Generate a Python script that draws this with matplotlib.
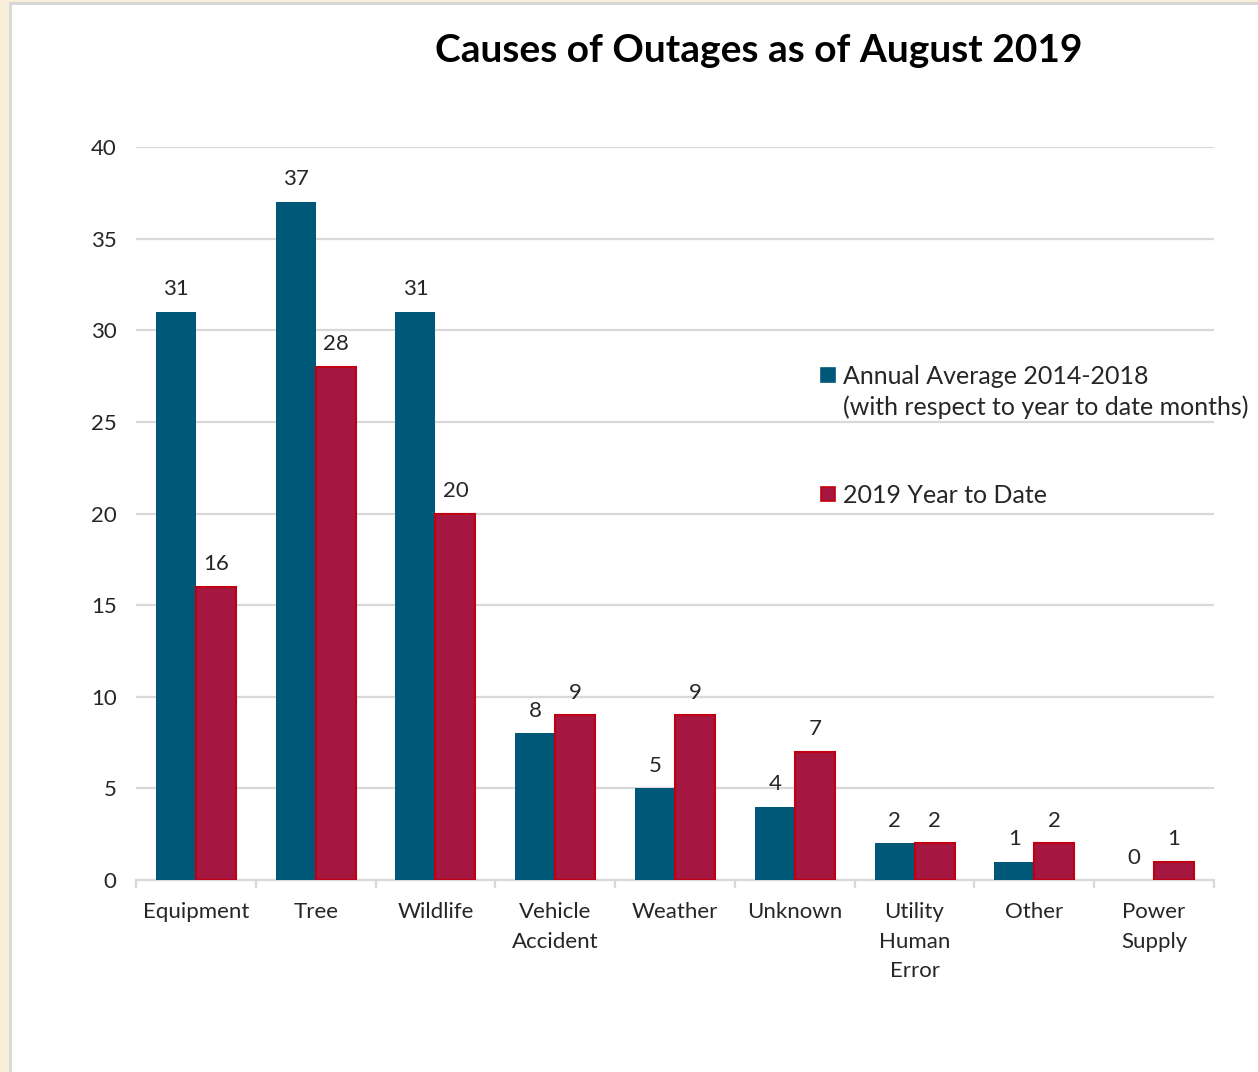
import matplotlib
matplotlib.use("Agg")
import matplotlib.pyplot as plt
from matplotlib.patches import Rectangle
import numpy as np

categories = ["Equipment", "Tree", "Wildlife", "Vehicle\nAccident", "Weather",
              "Unknown", "Utility\nHuman\nError", "Other", "Power\nSupply"]
avg_2014_2018 = [31, 37, 31, 8, 5, 4, 2, 1, 0]
ytd_2019 = [16, 28, 20, 9, 9, 7, 2, 2, 1]
series_labels = ["Annual Average 2014-2018\n(with respect to year to date months)",
                 "2019 Year to Date"]
title = "Causes of Outages as of August 2019"
yticks = [0, 5, 10, 15, 20, 25, 30, 35, 40]

BLUE = "#005878"
RED = "#A51641"
RED_EDGE = "#C00010"
GRID = "#D9D9D9"
TXT = "#262626"

plt.rcParams['font.family'] = ['Lato', 'DejaVu Sans']

W, H = 1258, 1072
fig = plt.figure(figsize=(W / 100, H / 100), dpi=100)
fig.patch.set_facecolor("#F8EFD8")
fig.patches.append(Rectangle((10 / W, -0.01), 1, 1 - 3 / H + 0.01, transform=fig.transFigure,
                             facecolor="white", edgecolor="#D6D6D6", linewidth=2, zorder=-10))

ax = fig.add_axes([136 / W, 1 - 880 / H, (1214 - 136) / W, (880 - 147) / H])
ax.set_facecolor("none")

x = np.arange(len(categories))
bw = 0.334
b1 = ax.bar(x - bw / 2, avg_2014_2018, bw, color=BLUE, zorder=3, label=series_labels[0])
b2 = ax.bar(x + bw / 2, ytd_2019, bw, color=RED, edgecolor=RED_EDGE, linewidth=1.5,
            zorder=3, label=series_labels[1])
ax.bar_label(b1, padding=9, fontsize=16, color=TXT)
ax.bar_label(b2, padding=9, fontsize=16, color=TXT)

ax.set_xlim(-0.5, len(categories) - 0.5)
ax.set_ylim(0, 40)
ax.set_yticks(yticks)
ax.set_yticklabels([str(v) for v in yticks], fontsize=16, color=TXT)
ax.yaxis.grid(True, color=GRID, linewidth=1.6, zorder=0)
ax.set_axisbelow(True)
ax.tick_params(axis='y', length=0, pad=14)

ax.set_xticks(x)
ax.set_xticklabels(categories, fontsize=16, color=TXT, linespacing=1.58)
ax.tick_params(axis='x', length=0, pad=16)
ax.set_xticks(np.arange(len(categories) + 1) - 0.5, minor=True)
ax.tick_params(axis='x', which='minor', length=6, color=GRID, width=1.6)

for s in ['top', 'right', 'left']:
    ax.spines[s].set_visible(False)
ax.spines['bottom'].set_color(GRID)
ax.spines['bottom'].set_linewidth(1.6)

fig.text(759 / W, 1 - 50 / H, title, ha='center', va='center', fontsize=28,
         fontweight='bold', color='black')

# legend (drawn manually to match the layout)
leg_items = [(BLUE, BLUE, 375), (RED, RED_EDGE, 494)]
for (fc, ec, yc), lab in zip(leg_items, series_labels):
    fig.patches.append(Rectangle((821 / W, 1 - (yc + 7) / H), 14 / W, 14 / H,
                                 transform=fig.transFigure, facecolor=fc, edgecolor=ec,
                                 linewidth=1.2))
    fig.text(843 / W, 1 - (yc - 10) / H, lab, ha='left', va='top', fontsize=18,
             color=TXT, linespacing=1.38)

fig.savefig("out.png", dpi=100, facecolor=fig.get_facecolor())
